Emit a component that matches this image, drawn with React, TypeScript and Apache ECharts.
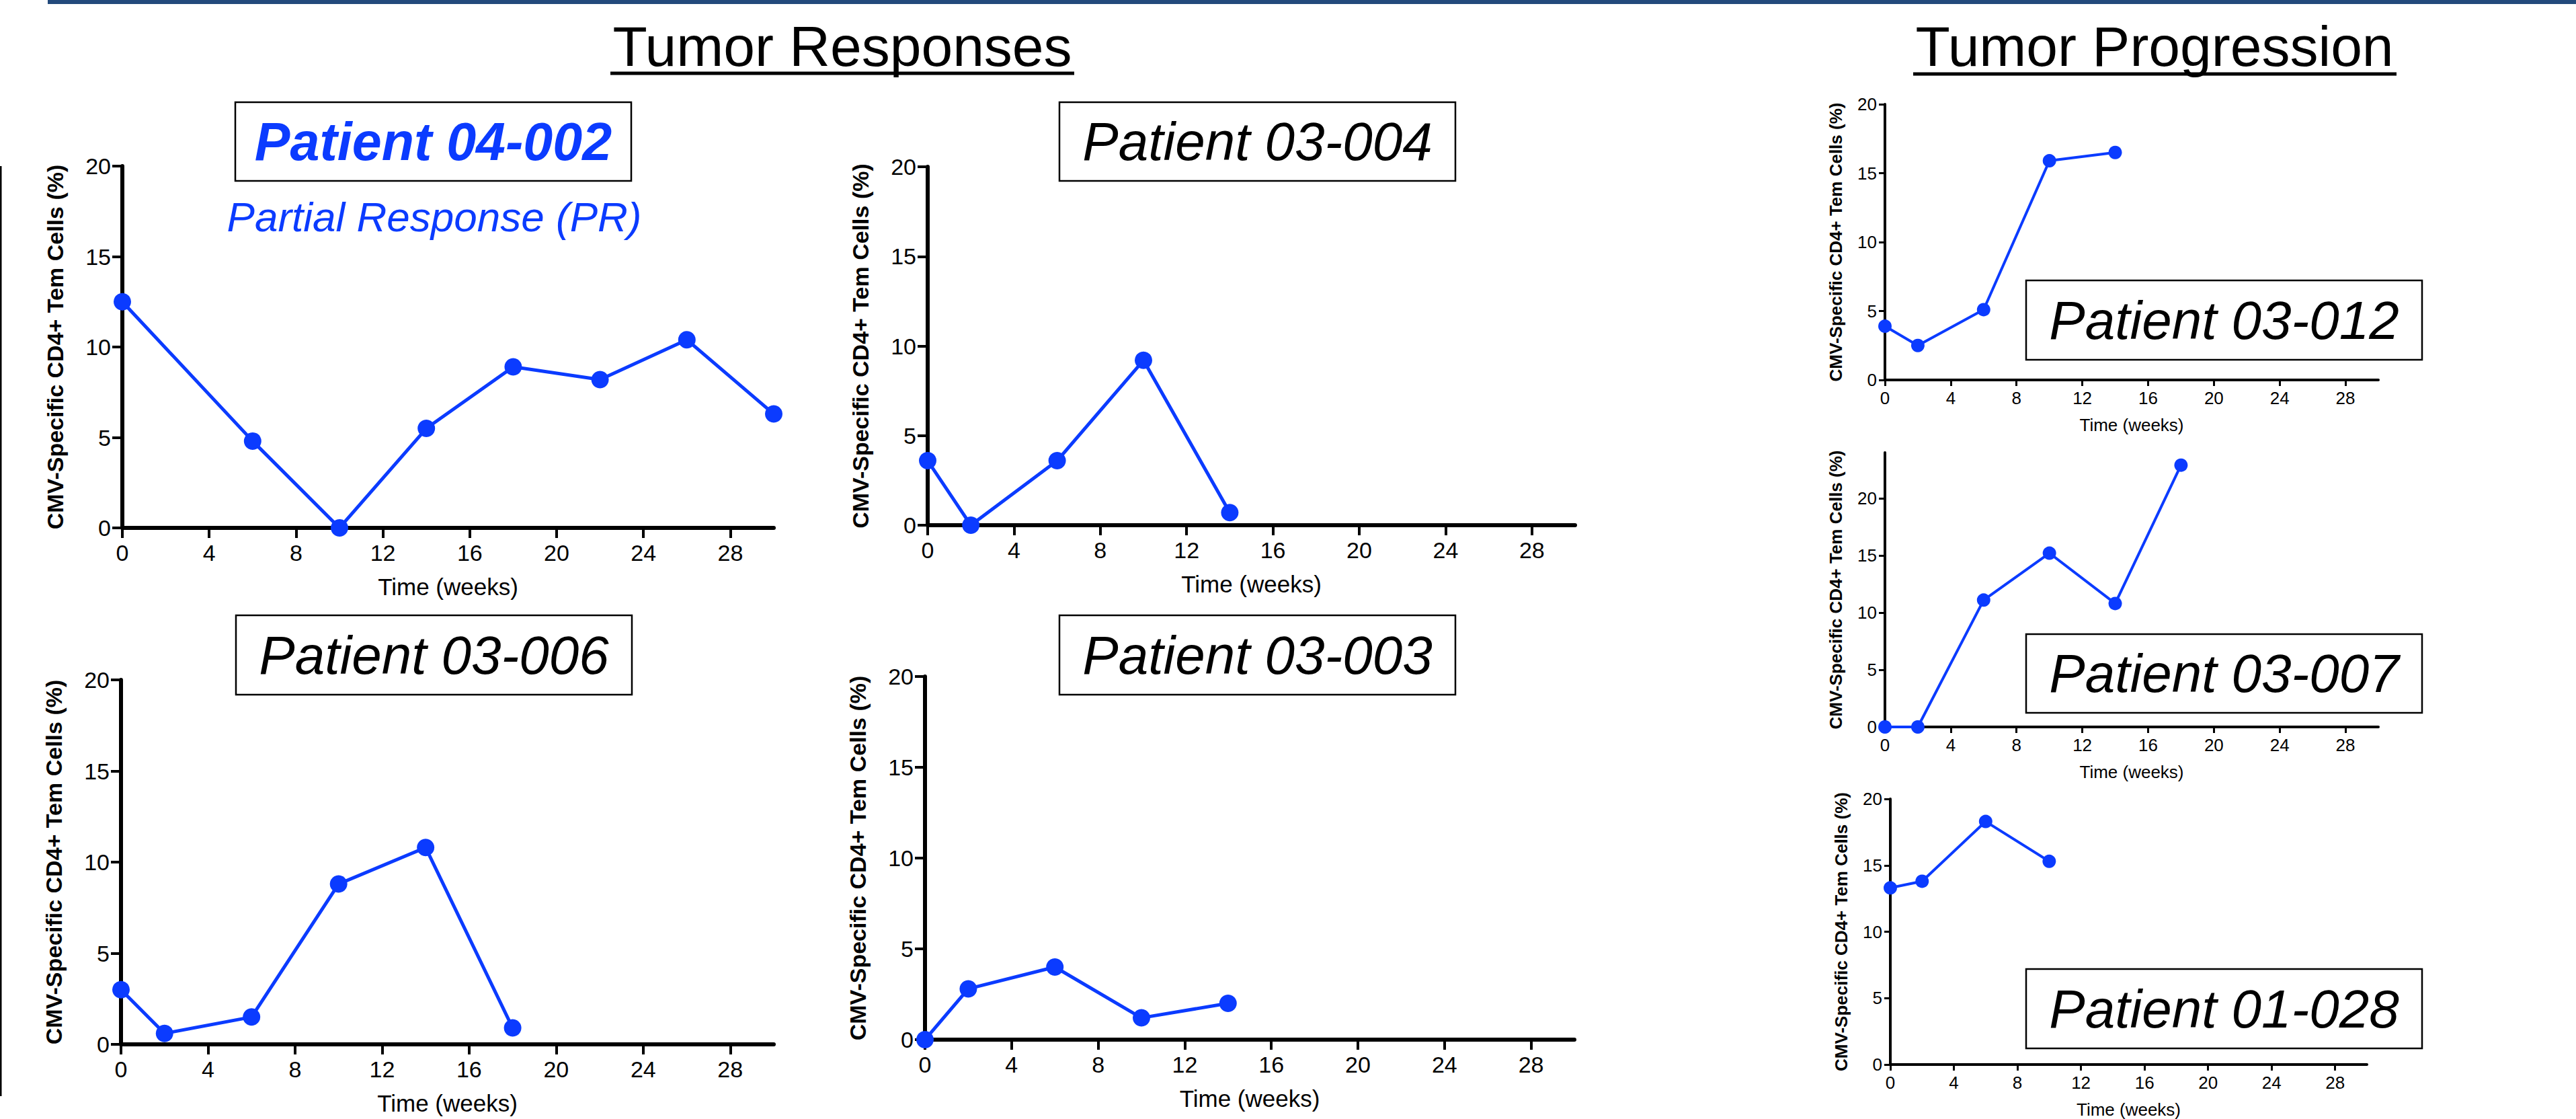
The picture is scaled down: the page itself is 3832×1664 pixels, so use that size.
import React, { useEffect, useRef } from "react";
import * as echarts from "echarts";

// ---------- data ----------
const xTickValues = [0, 4, 8, 12, 16, 20, 24, 28];
const yTickValues = [0, 5, 10, 15, 20];
const xAxisTitle = "Time (weeks)";
const yAxisTitle = "CMV-Specific CD4+ Tem Cells (%)";
const sectionTitles = ["Tumor Responses", "Tumor Progression"];
const responseNote = "Partial Response (PR)";

const weeks04002 = [0, 6, 10, 14, 18, 22, 26, 30];
const cells04002 = [12.5, 4.8, 0, 5.5, 8.9, 8.2, 10.4, 6.3];

const weeks03004 = [0, 2, 6, 10, 14];
const cells03004 = [3.6, 0, 3.6, 9.2, 0.7];

const weeks03006 = [0, 2, 6, 10, 14, 18];
const cells03006 = [3.0, 0.6, 1.5, 8.8, 10.8, 0.9];

const weeks03003 = [0, 2, 6, 10, 14];
const cells03003 = [0, 2.8, 4.0, 1.2, 2.0];

const weeks03012 = [0, 2, 6, 10, 14];
const cells03012 = [3.9, 2.5, 5.1, 15.9, 16.5];

const weeks03007 = [0, 2, 6, 10, 14, 18];
const cells03007 = [0, 0, 11.1, 15.2, 10.8, 22.9];

const weeks01028 = [0, 2, 6, 10];
const cells01028 = [13.3, 13.8, 18.3, 15.3];

// ---------- layout / style ----------
const FONT = "'Liberation Sans', Arial, Helvetica, sans-serif";
const BLUE = "#0b3bff";

type Panel = {
  label: string;
  weeks: number[];
  cells: number[];
  grid: { left: number; top: number; width: number; height: number };
  yMax: number;
  big: boolean;
  box: { x: number; y: number; w: number; h: number };
  highlight?: boolean;
};

const panels: Panel[] = [
  { label: "Patient 04-002", weeks: weeks04002, cells: cells04002, grid: { left: 182, top: 247, width: 969, height: 538 }, yMax: 20, big: true, box: { x: 350, y: 152, w: 589, h: 117 }, highlight: true },
  { label: "Patient 03-004", weeks: weeks03004, cells: cells03004, grid: { left: 1380, top: 248, width: 963, height: 533 }, yMax: 20, big: true, box: { x: 1576, y: 152, w: 589, h: 117 } },
  { label: "Patient 03-006", weeks: weeks03006, cells: cells03006, grid: { left: 180, top: 1011, width: 971, height: 542 }, yMax: 20, big: true, box: { x: 351, y: 915, w: 589, h: 118 } },
  { label: "Patient 03-003", weeks: weeks03003, cells: cells03003, grid: { left: 1376, top: 1006, width: 966, height: 540 }, yMax: 20, big: true, box: { x: 1576, y: 915, w: 589, h: 118 } },
  { label: "Patient 03-012", weeks: weeks03012, cells: cells03012, grid: { left: 2804, top: 155, width: 734, height: 410 }, yMax: 20, big: false, box: { x: 3014, y: 417, w: 589, h: 118 } },
  { label: "Patient 03-007", weeks: weeks03007, cells: cells03007, grid: { left: 2804, top: 673, width: 734, height: 408 }, yMax: 24, big: false, box: { x: 3014, y: 943, w: 589, h: 117 } },
  { label: "Patient 01-028", weeks: weeks01028, cells: cells01028, grid: { left: 2812, top: 1188, width: 709, height: 395 }, yMax: 20, big: false, box: { x: 3014, y: 1441, w: 589, h: 118 } },
];

function buildOption() {
  const grid: any[] = [];
  const xAxis: any[] = [];
  const yAxis: any[] = [];
  const series: any[] = [];
  const graphic: any[] = [];

  panels.forEach((p, i) => {
    const b = p.big;
    const axisW = b ? 6 : 4;
    const tickLen = b ? 15 : 9;
    const tickW = b ? 4 : 3;
    const tickFont = b ? 34 : 26;
    const nameFont = b ? 35 : 26;
    const yNameFont = b ? 34 : 26;
    grid.push({ ...p.grid, containLabel: false, outerBoundsMode: "none" });
    xAxis.push({
      gridIndex: i,
      type: "value",
      min: 0,
      max: 30,
      name: xAxisTitle,
      nameLocation: "middle",
      nameGap: b ? 70 : 54,
      nameTextStyle: { fontSize: nameFont, fontFamily: FONT, color: "#000" },
      axisLine: { show: true, onZero: false, lineStyle: { color: "#000", width: axisW } },
      axisTick: { show: true, customValues: xTickValues, length: tickLen, lineStyle: { color: "#000", width: tickW } },
      axisLabel: { customValues: xTickValues, fontSize: tickFont, fontFamily: FONT, color: "#000", margin: b ? 20 : 14 },
      splitLine: { show: false },
    });
    yAxis.push({
      gridIndex: i,
      type: "value",
      min: 0,
      max: p.yMax,
      name: yAxisTitle,
      nameLocation: "middle",
      nameGap: b ? 83 : 60,
      nameTextStyle: { fontSize: yNameFont, fontWeight: "bold", fontFamily: FONT, color: "#000" },
      axisLine: { show: true, onZero: false, lineStyle: { color: "#000", width: axisW } },
      axisTick: { show: true, customValues: yTickValues, length: tickLen, lineStyle: { color: "#000", width: tickW } },
      axisLabel: { customValues: yTickValues, fontSize: tickFont, fontFamily: FONT, color: "#000", margin: b ? 17 : 12 },
      splitLine: { show: false },
    });
    series.push({
      type: "line",
      xAxisIndex: i,
      yAxisIndex: i,
      data: p.weeks.map((w, k) => [w, p.cells[k]]),
      symbol: "circle",
      symbolSize: b ? 26 : 20,
      showSymbol: true,
      clip: false,
      lineStyle: { color: BLUE, width: b ? 5 : 4 },
      itemStyle: { color: BLUE },
      z: 5,
    });
    graphic.push({
      type: "rect",
      shape: { x: p.box.x, y: p.box.y, width: p.box.w, height: p.box.h },
      style: { fill: "#fff", stroke: "#000", lineWidth: 2.5 },
      z: 1,
    });
    graphic.push({
      type: "text",
      x: p.box.x + p.box.w / 2,
      y: p.box.y + p.box.h / 2,
      style: {
        text: p.label,
        fontSize: p.highlight ? 79 : 80,
        fontFamily: FONT,
        fontStyle: "italic",
        fontWeight: p.highlight ? "bold" : "normal",
        fill: p.highlight ? BLUE : "#000",
        align: "center",
        verticalAlign: "middle",
      },
      z: 2,
    });
  });

  // section titles + underlines
  graphic.push({
    type: "text",
    x: 1253,
    y: 69,
    style: { text: sectionTitles[0], fontSize: 84, fontFamily: FONT, fill: "#000", align: "center", verticalAlign: "middle" },
  });
  graphic.push({ type: "line", shape: { x1: 908, y1: 109, x2: 1598, y2: 109 }, style: { stroke: "#000", lineWidth: 5 } });
  graphic.push({
    type: "text",
    x: 3205,
    y: 69,
    style: { text: sectionTitles[1], fontSize: 84, fontFamily: FONT, fill: "#000", align: "center", verticalAlign: "middle" },
  });
  graphic.push({ type: "line", shape: { x1: 2846, y1: 110, x2: 3565, y2: 110 }, style: { stroke: "#000", lineWidth: 5 } });

  // partial response note
  graphic.push({
    type: "text",
    x: 646,
    y: 322,
    style: { text: responseNote, fontSize: 62, fontFamily: FONT, fontStyle: "italic", fill: BLUE, align: "center", verticalAlign: "middle" },
  });

  // top banner bar and left rule
  graphic.push({ type: "rect", shape: { x: 71, y: 0, width: 3832 - 71, height: 6 }, style: { fill: "#234a7c" } });
  graphic.push({ type: "rect", shape: { x: 0, y: 247, width: 2.5, height: 1383 }, style: { fill: "#000" } });

  return {
    animation: false,
    backgroundColor: "#fff",
    grid,
    xAxis,
    yAxis,
    series,
    graphic,
  };
}

export default function App() {
  const ref = useRef<HTMLDivElement>(null);
  useEffect(() => {
    document.body.style.margin = "0";
    const el = ref.current;
    if (!el) return;
    const chart = echarts.init(el, null, { renderer: "svg" });
    chart.setOption(buildOption() as any);
    return () => chart.dispose();
  }, []);
  return <div ref={ref} style={{ width: 3832, height: 1664, background: "#fff" }} />;
}
